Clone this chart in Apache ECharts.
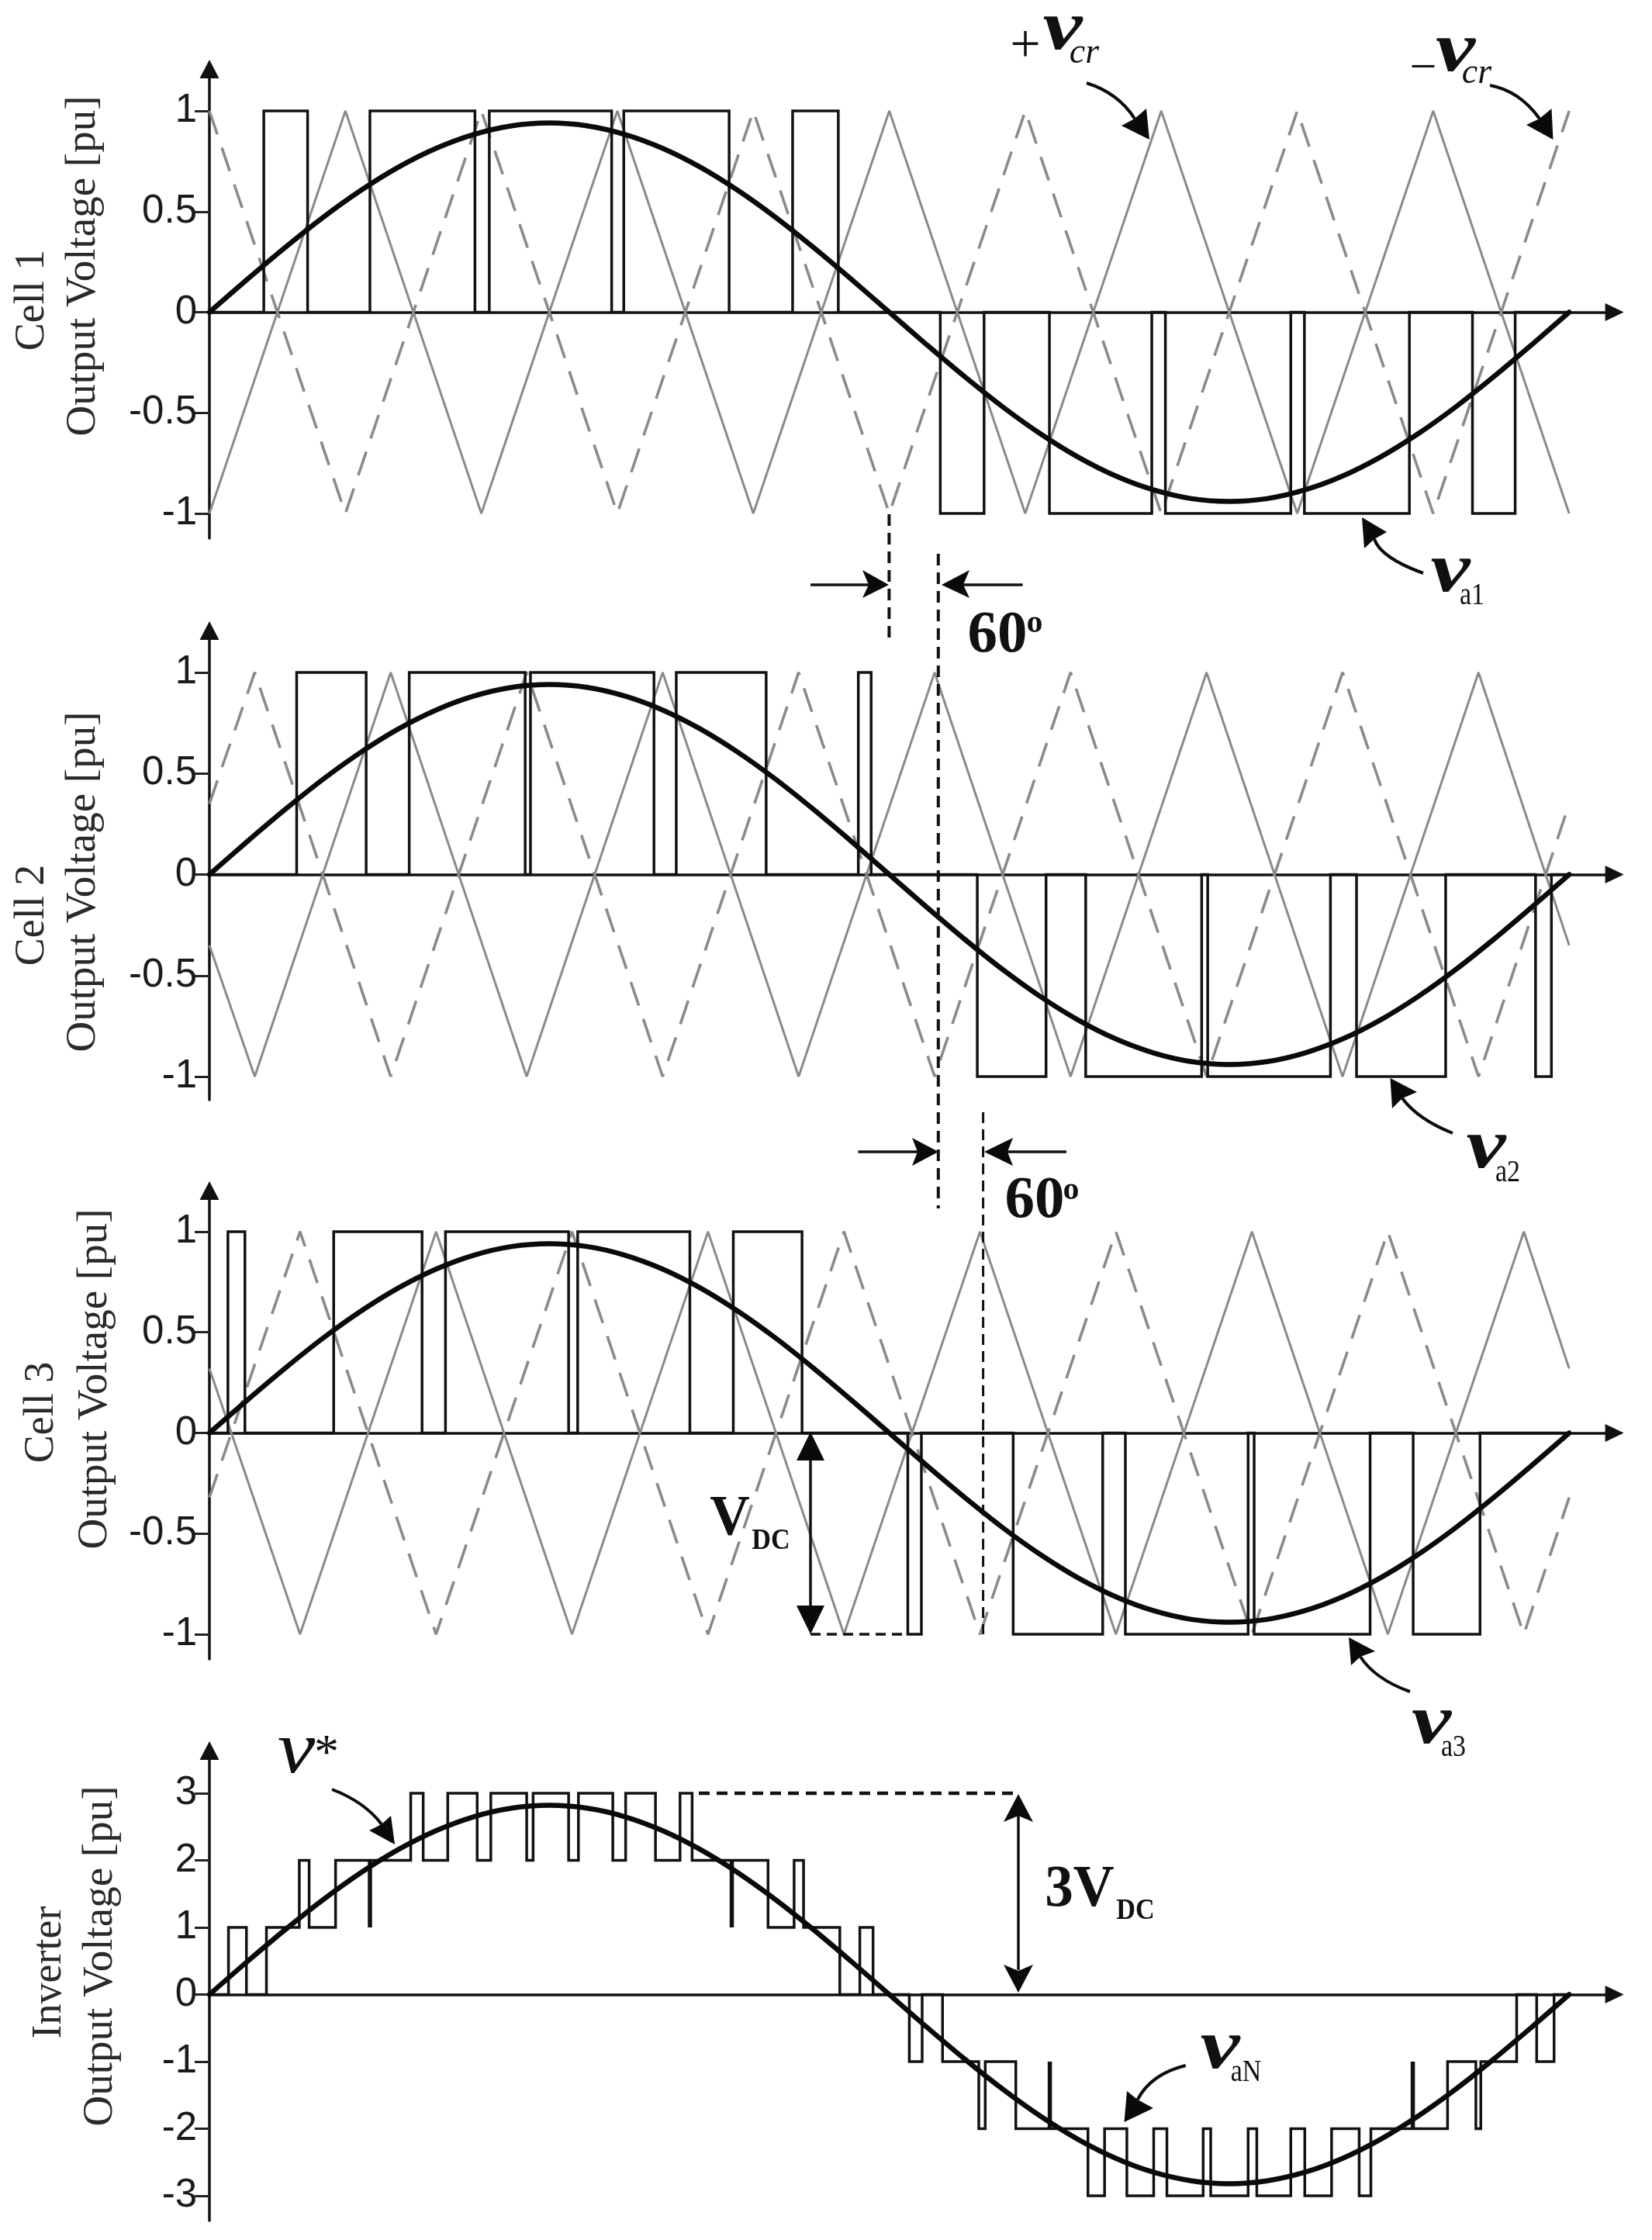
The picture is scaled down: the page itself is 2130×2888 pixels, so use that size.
<!DOCTYPE html>
<html><head><meta charset="utf-8">
<style>html,body{margin:0;padding:0;background:#fff}#c{width:2130px;height:2888px}</style>
<script src="https://cdn.jsdelivr.net/npm/echarts@6/dist/echarts.min.js"></script>
</head><body><div id="c"></div>
<script>
// ---------- DATA (x in electrical degrees, y in pu) ----------
const cellTicks = [-1, -0.5, 0, 0.5, 1];
const inverterTicks = [-3, -2, -1, 0, 1, 2, 3];

const refCell = [[0,0],[10,0.163],[20,0.321],[30,0.47],[40,0.604],[50,0.72],[60,0.814],[70,0.883],[80,0.926],[90,0.94],[100,0.926],[110,0.883],[120,0.814],[130,0.72],[140,0.604],[150,0.47],[160,0.321],[170,0.163],[180,0],[190,-0.163],[200,-0.321],[210,-0.47],[220,-0.604],[230,-0.72],[240,-0.814],[250,-0.883],[260,-0.926],[270,-0.94],[280,-0.926],[290,-0.883],[300,-0.814],[310,-0.72],[320,-0.604],[330,-0.47],[340,-0.321],[350,-0.163],[360,0]];
const refInverter = [[0,0],[10,0.49],[20,0.964],[30,1.41],[40,1.813],[50,2.16],[60,2.442],[70,2.65],[80,2.777],[90,2.82],[100,2.777],[110,2.65],[120,2.442],[130,2.16],[140,1.813],[150,1.41],[160,0.964],[170,0.49],[180,0],[190,-0.49],[200,-0.964],[210,-1.41],[220,-1.813],[230,-2.16],[240,-2.442],[250,-2.65],[260,-2.777],[270,-2.82],[280,-2.777],[290,-2.65],[300,-2.442],[310,-2.16],[320,-1.813],[330,-1.41],[340,-0.964],[350,-0.49],[360,0]];

const carrier1Solid = [[0,-1],[36,1],[72,-1],[108,1],[144,-1],[180,1],[216,-1],[252,1],[288,-1],[324,1],[360,-1]];
const carrier1Dash  = [[0,1],[36,-1],[72,1],[108,-1],[144,1],[180,-1],[216,1],[252,-1],[288,1],[324,-1],[360,1]];
const carrier2Solid = [[0,-0.35],[12,-1],[48,1],[84,-1],[120,1],[156,-1],[192,1],[228,-1],[264,1],[300,-1],[336,1],[360,-0.35]];
const carrier2Dash  = [[0,0.35],[12,1],[48,-1],[84,1],[120,-1],[156,1],[192,-1],[228,1],[264,-1],[300,1],[336,-1],[360,0.35]];
const carrier3Solid = [[0,0.32],[24,-1],[60,1],[96,-1],[132,1],[168,-1],[204,1],[240,-1],[276,1],[312,-1],[348,1],[360,0.32]];
const carrier3Dash  = [[0,-0.32],[24,1],[60,-1],[96,1],[132,-1],[168,1],[204,-1],[240,1],[276,-1],[312,1],[348,-1],[360,-0.32]];

const pulse1 = [[0,0],[14.4,1],[26,0],[42.5,1],[70.3,0],[74.1,1],[106.5,0],[109.7,1],[137.6,0],[154.4,1],[166.5,0],[193.5,-1],[205.1,0],[222.4,-1],[249.5,0],[253.1,-1],[286.3,0],[289.9,-1],[317.7,0],[334.4,-1],[345.7,0],[360,0]];
const pulse2 = [[0,0],[23.1,1],[41.5,0],[52.9,1],[83.6,0],[85,1],[117.7,0],[123.6,1],[147.4,0],[171.8,1],[175.2,0],[203.3,-1],[221.5,0],[232,-1],[262.7,0],[264.3,-1],[296.8,0],[303.7,-1],[327.3,0],[351.1,-1],[355.3,0],[360,0]];
const pulse3 = [[0,0],[4.9,1],[9.4,0],[32.9,1],[56.3,0],[62.5,1],[95.1,0],[97.5,1],[127.2,0],[138.7,1],[156.9,0],[184.9,-1],[188.5,0],[212.8,-1],[236.5,0],[242.5,-1],[275,0],[276.6,-1],[307.3,0],[318.7,-1],[336.4,0],[360,0]];
const inverterSteps = [[0,0],[5.05,1],[9.8,0],[15.1,1],[23.8,2],[26.4,1],[33.4,2],[53.3,3],[56.6,2],[63.1,3],[70.9,2],[74.5,3],[84,2],[85.7,3],[95.1,2],[97.7,3],[106.8,2],[110.2,3],[118.1,2],[124.6,3],[127.8,2],[147.9,1],[154.8,2],[157.3,1],[166.9,0],[172.2,1],[175.7,0],[185.3,-1],[188.7,0],[194.1,-1],[203.7,-2],[205.4,-1],[213.5,-2],[232.6,-3],[237,-2],[242.9,-3],[250,-2],[253.5,-3],[263.1,-2],[265.1,-3],[275,-2],[277.3,-3],[286.3,-2],[290,-3],[297.1,-2],[304.4,-3],[307.5,-2],[327.8,-1],[335.3,-2],[336.6,-1],[346.1,0],[351.4,-1],[356,0],[360,0]];
const inverterNotches = [[42.5,1],[42.5,2],[42.5,null],[138.3,1],[138.3,2],[138.3,null],[222.5,-1],[222.5,-2],[222.5,null],[318.6,-1],[318.6,-2]];

// ---------- LAYOUT ----------
const FONT_SERIF = '"Liberation Serif", serif';
const FONT_SANS = '"Liberation Sans", sans-serif';
const panels = [
  {top:89,  bottom:694,  min:-1.123, max:1.208, ticks:cellTicks},
  {top:813, bottom:1418, min:-1.115, max:1.207, ticks:cellTicks},
  {top:1535,bottom:2139, min:-1.123, max:1.204, ticks:cellTicks},
  {top:2257,bottom:2863, min:-3.37,  max:3.636, ticks:inverterTicks}
];
const PX_PER_DEG = 4.87, XMAX = 372;

const grid = panels.map(p => ({left:270, top:p.top, width:XMAX*PX_PER_DEG, height:p.bottom-p.top}));
const xAxis = panels.map((p,i) => ({
  gridIndex:i, type:'value', min:0, max:XMAX, splitLine:{show:false},
  axisTick:{show:false}, axisLabel:{show:false},
  axisLine:{show:true, onZero:true, symbol:['none','triangle'], symbolSize:[23,24],
    lineStyle:{color:'#111', width:3.5}}
}));
const yAxis = panels.map((p,i) => ({
  gridIndex:i, type:'value', min:p.min, max:p.max, splitLine:{show:false},
  axisLine:{show:true, onZero:true, symbol:['none','triangle'], symbolSize:[25,24],
    lineStyle:{color:'#111', width:3.5}},
  axisTick:{show:true, length:19, customValues:p.ticks, lineStyle:{color:'#222', width:3}},
  axisLabel:{show:true, customValues:p.ticks, margin:16, color:'#1a1a1a', fontFamily:FONT_SANS, fontSize:51}
}));

const lineBase = {type:'line', showSymbol:false, symbol:'none', silent:true, animation:false};
function carrier(i, data, dashed){
  return Object.assign({}, lineBase, {xAxisIndex:i, yAxisIndex:i, data, z:2,
    lineStyle:{color:'#8a8a8a', width:dashed?3.6:3, type:dashed?[32,18]:'solid'}});
}
function pulse(i, data){
  return Object.assign({}, lineBase, {xAxisIndex:i, yAxisIndex:i, data, step:'end', z:3,
    lineStyle:{color:'#111', width:3.5, join:'miter'}});
}
function ref(i, data){
  return Object.assign({}, lineBase, {xAxisIndex:i, yAxisIndex:i, data, smooth:0.3, z:4,
    lineStyle:{color:'#0a0a0a', width:6.5, cap:'round'}});
}
const series = [
  carrier(0,carrier1Solid,false), carrier(0,carrier1Dash,true), pulse(0,pulse1), ref(0,refCell),
  carrier(1,carrier2Solid,false), carrier(1,carrier2Dash,true), pulse(1,pulse2), ref(1,refCell),
  carrier(2,carrier3Solid,false), carrier(2,carrier3Dash,true), pulse(2,pulse3), ref(2,refCell),
  pulse(3,inverterSteps),
  Object.assign({}, lineBase, {xAxisIndex:3, yAxisIndex:3, data:inverterNotches, z:3, connectNulls:false,
    lineStyle:{color:'#111', width:5.5}}),
  ref(3,refInverter)
];

// ---------- ANNOTATIONS ----------
const g = [];
function rot(text,x,y,size){ g.push({type:'text',x,y,rotation:Math.PI/2,silent:true,z:10,
  style:{text,fill:'#2a2a2a',font:size+'px '+FONT_SERIF,textAlign:'center',textVerticalAlign:'middle'}}); }
function t(text,cx,base,size,style,sx){ g.push({type:'text',x:cx,y:base-0.32*size,scaleX:sx||1,silent:true,z:10,
  style:{text,fill:'#111',font:(style?style+' ':'')+size+'px '+FONT_SERIF,textAlign:'center',textVerticalAlign:'middle'}}); }
function seg(x1,y1,x2,y2,w,dash){ g.push({type:'line',silent:true,z:9,shape:{x1,y1,x2,y2},
  style:{stroke:'#111',lineWidth:w,lineDash:dash||null}}); }
function head(pts){ g.push({type:'polygon',silent:true,z:9,shape:{points:pts},style:{fill:'#0a0a0a'}}); }
function curve(x1,y1,cx,cy,x2,y2,w){ g.push({type:'bezierCurve',silent:true,z:9,
  shape:{x1,y1,x2,y2,cpx1:cx,cpy1:cy},style:{stroke:'#0a0a0a',lineWidth:w||3.5,fill:'none'}}); }
function curved(s,c,e,tip,b1,b2){ curve(s[0],s[1],c[0],c[1],e[0],e[1],4); head([tip,b1,e,b2]); }

rot('Output Voltage [pu]',108,343,55);  rot('Cell 1',42,387,54);
rot('Output Voltage [pu]',108,1137,55); rot('Cell 2',42,1180,54);
rot('Output Voltage [pu]',123,1778,55); rot('Cell 3',54,1821,54);
rot('Output Voltage [pu]',130,2522,55); rot('Inverter',64,2543,54);

const V='bold italic', VS=92, VX=1.25;
t('+',1322,84,70); t('v',1370,69,VS,V,VX); t('cr',1398,84,46,'italic');
t('\u2212',1835,110,62); t('v',1876.5,97,VS,V,VX); t('cr',1904,110,46,'italic');
t('v',1870,768,VS,V,VX); t('a1',1898,781,40,'',0.85);
t('v',1916,1511,VS,V,VX); t('a2',1944,1525,40,'',0.85);
t('v',1845.5,2253,VS,V,VX); t('a3',1874,2266,40,'',0.85);
t('v',1573,2672,VS,V,VX); t('aN',1606.5,2685,40,'',0.85);
t('v',382,2290,95,'italic',1.15); t('*',421,2284,64);
t('V',941,1984,75,'bold',0.95); t('DC',994,1999,38,'bold',0.9);
t('3V',1392,2462,77,'bold',0.95); t('DC',1464,2476,38,'bold',0.9);
t('60',1286,845,77,'bold'); t('o',1334,818,42,'bold');
t('60',1334,1574,77,'bold'); t('o',1381,1549,42,'bold');

curved([1401,107],[1442,120],[1463,153],[1482,180],[1446,162],[1478,140]);
curved([1921,110],[1959,117],[1985,153],[2002.5,180],[1968,161],[2000.5,140]);
curved([1835,739],[1780,719],[1772,695],[1756,667],[1759,707],[1788,686]);
curved([1873,1461],[1828,1443],[1808,1416],[1792.5,1390],[1795,1429],[1827,1408]);
curved([1818,2181],[1773,2165],[1754,2136],[1739,2111],[1742,2147],[1773,2129]);
curved([428,2307],[470,2323],[492,2352],[509,2378],[476,2360],[504,2341]);
curved([1528.7,2663],[1484,2674],[1466.7,2707],[1449.5,2736],[1453,2696],[1487,2718]);

// phase-shift markers
seg(1146.4,663,1146.4,825,4,[15,9]);
seg(1209.8,714,1209.8,1558,4,[15,9]);
seg(1267.6,1434,1267.6,2107,3,[14,8]);
seg(1045,754,1125,754,3.5); head([[1146,754],[1112,735],[1120,754],[1112,771]]);
seg(1235,754,1318.6,754,3.5); head([[1214,754],[1250,735],[1242,754],[1250,771]]);
seg(1106.5,1485,1190,1485,3.5); head([[1210,1485],[1176,1467],[1183,1485],[1176,1503]]);
seg(1292,1485,1375,1485,3.5); head([[1269,1485],[1306,1467],[1299,1485],[1306,1503]]);

// V_DC
seg(1045,1875,1045,2080,3.5);
head([[1045,1846],[1027,1883],[1063,1883]]);
head([[1045,2107],[1027,2070],[1063,2070]]);
seg(1045,2107,1170.5,2107,3.5,[13,8]);
// 3V_DC
seg(1313,2340,1313,2540,3.5);
head([[1313,2313],[1294,2349],[1313,2341],[1332,2349]]);
head([[1313,2569],[1294,2533],[1313,2541],[1332,2533]]);
seg(901,2312,1313,2312,4.5,[14,9]);

const chart = echarts.init(document.getElementById('c'), null, {renderer:'canvas', width:2130, height:2888});
chart.setOption({animation:false, backgroundColor:'#fff', grid, xAxis, yAxis, series, graphic:{elements:g}, tooltip:{show:false}});
</script></body></html>
